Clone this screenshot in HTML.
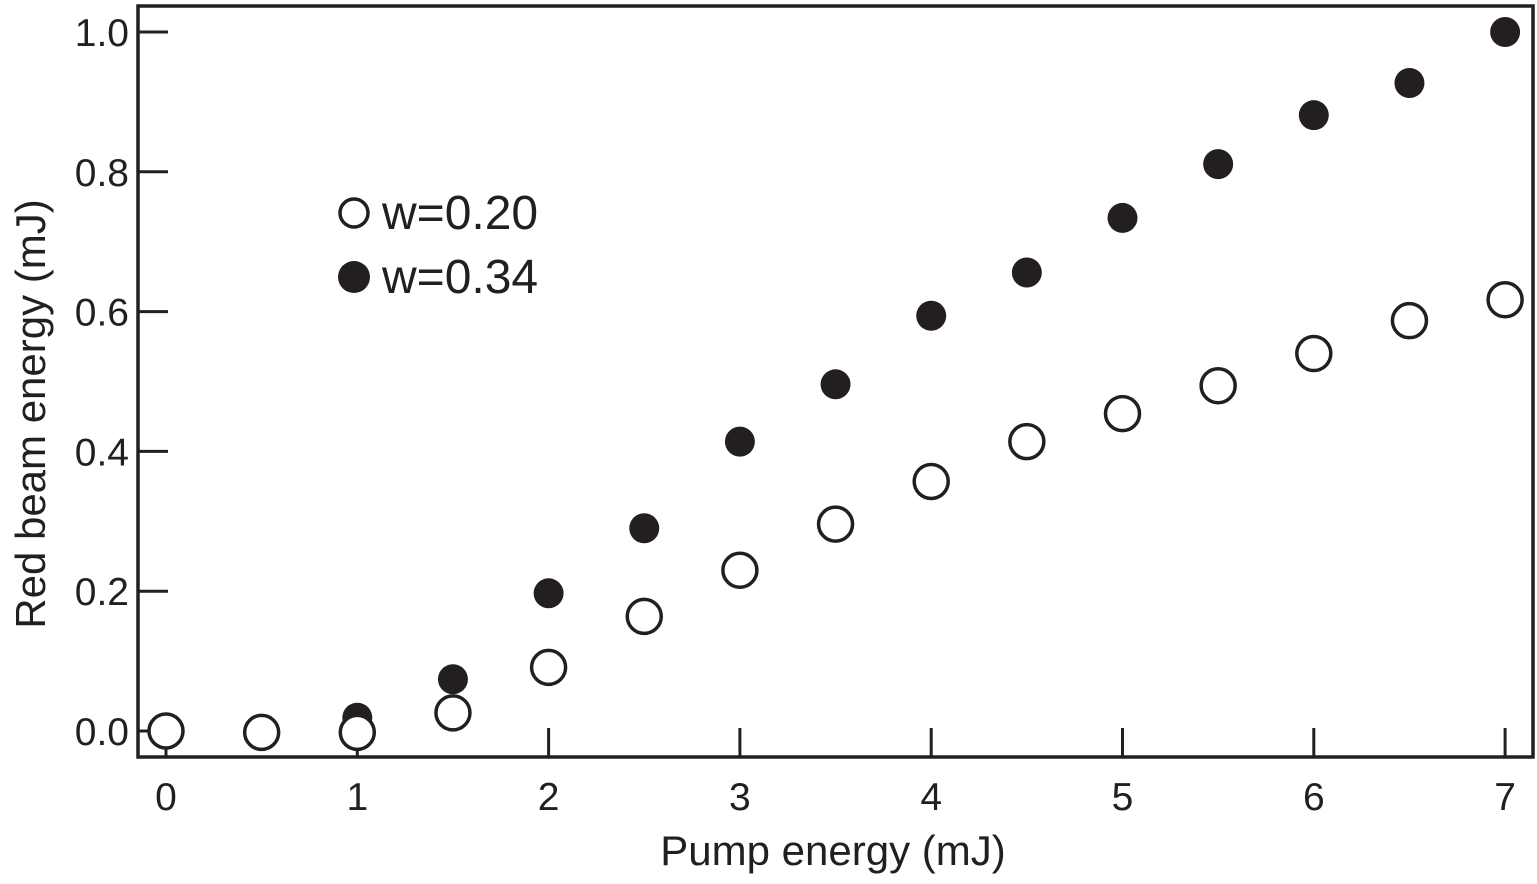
<!DOCTYPE html>
<html><head><meta charset="utf-8"><style>
body{margin:0;background:#fff;}
svg{display:block;font-family:"Liberation Sans",Arial,sans-serif;}
</style></head><body>
<svg id="chart" width="1537" height="884" viewBox="0 0 1537 884">
<rect x="138" y="6" width="1395" height="751" fill="none" stroke="#231f20" stroke-width="3.5"/>
<g id="ticks"></g><g id="marks"></g>
<text x="833" y="865" font-size="42" text-anchor="middle" fill="#231f20">Pump energy (mJ)</text>
<text transform="translate(45,414) rotate(-90)" font-size="42" text-anchor="middle" fill="#231f20">Red beam energy (mJ)</text>
<g>
<circle cx="354" cy="213" r="14" fill="#fff" stroke="#231f20" stroke-width="3.5"/>
<text x="382" y="229" font-size="48" fill="#231f20">w=0.20</text>
<circle cx="354" cy="277" r="16" fill="#231f20"/>
<text x="382" y="293" font-size="48" fill="#231f20">w=0.34</text>
</g>
</svg>
<script>
const xs=[0,0.5,1,1.5,2,2.5,3,3.5,4,4.5,5,5.5,6,6.5,7];
const openY=[0,-0.002,-0.002,0.026,0.091,0.164,0.230,0.296,0.357,0.414,0.454,0.494,0.540,0.587,0.617];
const filledX=[1,1.5,2,2.5,3,3.5,4,4.5,5,5.5,6,6.5,7];
const filledY=[0.019,0.074,0.197,0.29,0.414,0.496,0.594,0.656,0.734,0.811,0.881,0.927,1.0];
const xTicks=[0,1,2,3,4,5,6,7];
const yTicks=[0,0.2,0.4,0.6,0.8,1.0];
const yTickLabels=["0.0","0.2","0.4","0.6","0.8","1.0"];
const X=v=>166+v*191.3, Y=v=>731-v*699;
const NS="http://www.w3.org/2000/svg";
const T=document.getElementById('ticks'), M=document.getElementById('marks');
function mk(tag,a,p){const e=document.createElementNS(NS,tag);for(const k in a)e.setAttribute(k,a[k]);p.appendChild(e);return e;}
xTicks.forEach(v=>{
 const l=mk('line',{x1:X(v),x2:X(v),y1:757,y2:728,stroke:'#231f20','stroke-width':3},T);
 
 
 const t=mk('text',{x:X(v),y:810,'font-size':39,'text-anchor':'middle',fill:'#231f20'},T);t.textContent=v;
 
 
});
yTicks.forEach((v,i)=>{
 const l=mk('line',{x1:138,x2:168,y1:Y(v),y2:Y(v),stroke:'#231f20','stroke-width':3},T);
 
 
 const t=mk('text',{x:129,y:Y(v)+14,'font-size':39,'text-anchor':'end',fill:'#231f20'},T);t.textContent=yTickLabels[i];
 
 
});
filledX.forEach((x,i)=>{
 const c=mk('circle',{cx:X(x),cy:Y(filledY[i]),r:15,fill:'#231f20'},M);
 
 
});
xs.forEach((x,i)=>{
 const c=mk('circle',{cx:X(x),cy:Y(openY[i]),r:17,fill:'#fff',stroke:'#231f20','stroke-width':3.5},M);
 
 
});
</script>
</body></html>
